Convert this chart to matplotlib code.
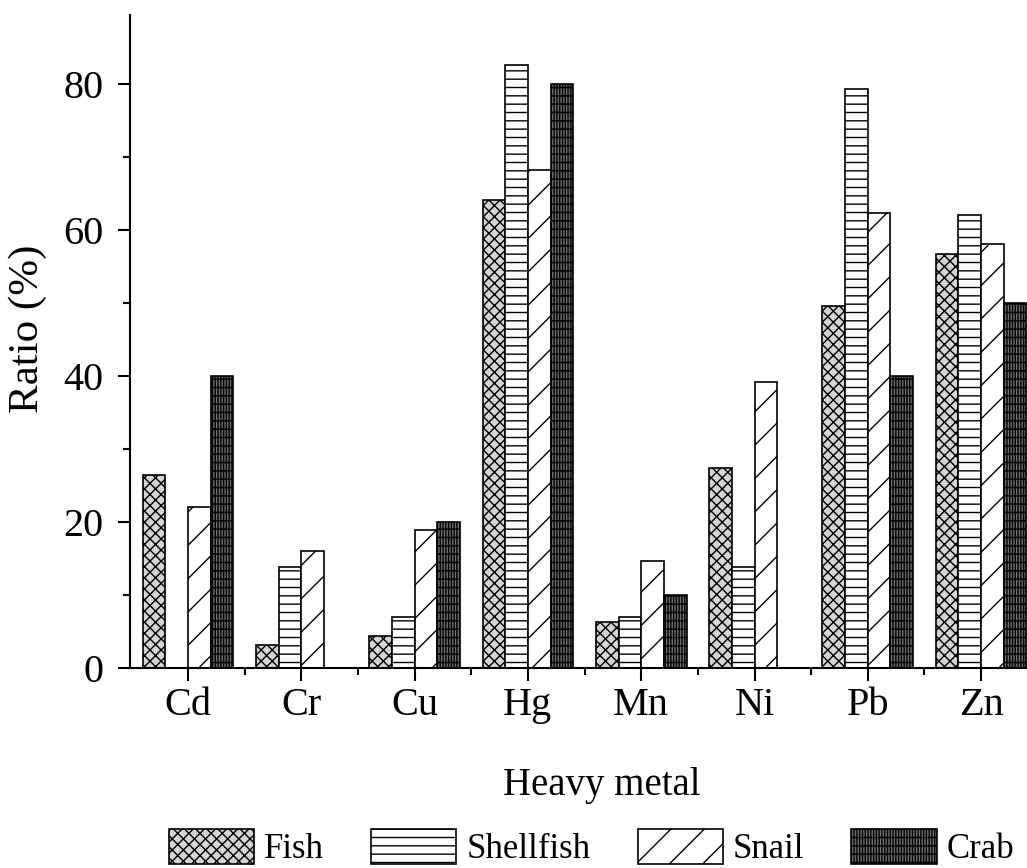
import matplotlib.pyplot as plt
import numpy as np
from matplotlib.ticker import MultipleLocator, FixedLocator

plt.rcParams['font.family'] = ['Liberation Serif', 'DejaVu Serif']
plt.rcParams['hatch.linewidth'] = 1.0

metals = ['Cd', 'Cr', 'Cu', 'Hg', 'Mn', 'Ni', 'Pb', 'Zn']
fish = [26.4, 3.2, 4.4, 64.1, 6.3, 27.4, 49.6, 56.8]
shellfish = [0, 13.8, 7.0, 82.7, 7.0, 13.8, 79.3, 62.1]
snail = [22.0, 16.0, 18.9, 68.2, 14.6, 39.2, 62.3, 58.1]
crab = [40, 0, 20, 80, 10, 0, 40, 50]

series = [('Fish', fish, '#d4d4d4', 'xxx'),
          ('Shellfish', shellfish, 'white', '--'),
          ('Snail', snail, 'white', '/'),
          ('Crab', crab, '#707070', '||||||--')]

fig = plt.figure(figsize=(10.27, 8.68), dpi=100)
ax = fig.add_axes([130/1027, 200/868, 897/1027, 653/868])

x = np.arange(len(metals))
w = 0.2
for i, (name, vals, fc, hatch) in enumerate(series):
    ax.bar(x + (i - 1.5) * w, vals, w, color=fc, edgecolor='black',
           linewidth=1.2, hatch=hatch, label=name, zorder=2)

ax.set_xlim(-0.512, 7.405)
ax.set_ylim(0, 89.5)
ax.set_xticks(x)
ax.set_xticklabels(metals)
ax.xaxis.set_minor_locator(FixedLocator(x[:-1] + 0.5))
ax.yaxis.set_major_locator(MultipleLocator(20))
ax.yaxis.set_minor_locator(MultipleLocator(10))

ax.tick_params(axis='both', which='major', direction='out', length=9, width=1.5, labelsize=29)
ax.tick_params(axis='both', which='minor', direction='out', length=5, width=1.5)
ax.tick_params(axis='x', which='major', pad=5)
ax.tick_params(axis='y', which='major', pad=10)

ax.spines['right'].set_color('none')
ax.spines['top'].set_color('none')
ax.spines['left'].set_linewidth(1.5)
ax.spines['bottom'].set_linewidth(1.5)

ax.set_xlabel('Heavy metal', fontsize=28)
ax.xaxis.set_label_coords(0.526, -0.152)
ax.set_ylabel('Ratio (%)', fontsize=31)
ax.yaxis.set_label_coords(-0.093, 0.52)

fig.legend(loc='lower left', bbox_to_anchor=(167/1027, 0.0), ncol=4, frameon=False,
           fontsize=25, handlelength=2.45, handleheight=1.15, handletextpad=0.3,
           columnspacing=1.35, borderpad=0.05, borderaxespad=0)

plt.savefig('out.png', format='png')
